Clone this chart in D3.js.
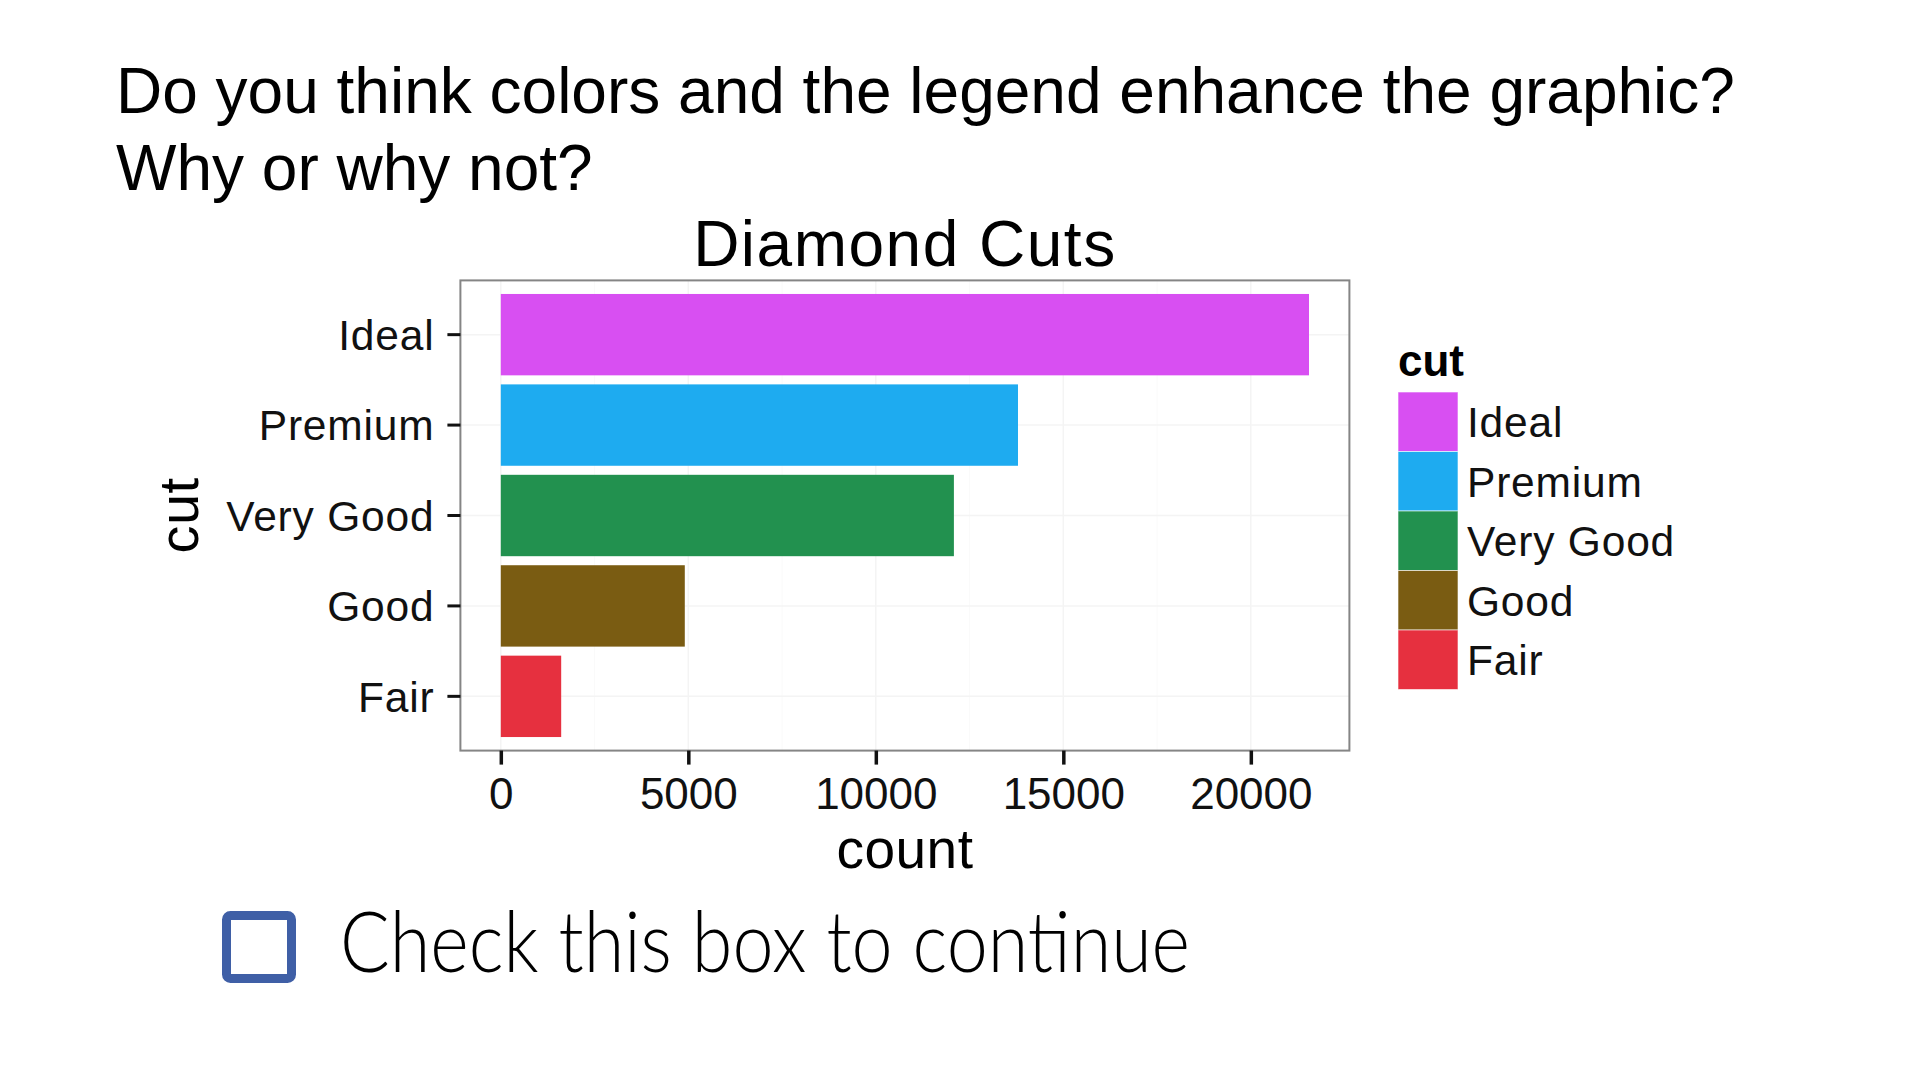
<!DOCTYPE html>
<html>
<head>
<meta charset="utf-8">
<script src="https://cdn.jsdelivr.net/npm/d3@7"></script>
<style>
  html, body { margin: 0; padding: 0; background: #ffffff; }
  svg { display: block; }
</style>
</head>
<body>
<svg id="chart" width="1920" height="1080"></svg>
<script>
// ---- data ----
const categories = ["Ideal", "Premium", "Very Good", "Good", "Fair"];
const counts = [21551, 13791, 12082, 4906, 1610];
const xTickValues = [0, 5000, 10000, 15000, 20000];
const xMinorValues = [2500, 7500, 12500, 17500];
const palette = ["#d84ff2", "#1eabf0", "#22914f", "#7a5c12", "#e6303f"];

const questionLines = ["Do you think colors and the legend enhance the graphic?", "Why or why not?"];
const chartTitle = "Diamond Cuts";
const xTitle = "count";
const yTitle = "cut";
const legendTitle = "cut";
const checkText = "Check this box to continue";

// ---- layout ----
const svg = d3.select("#chart");
const panel = { left: 460.4, right: 1349.4, top: 280.4, bottom: 750.6 };
const sansFont = "'Liberation Sans', Arial, Helvetica, sans-serif";

svg.append("rect").attr("width", 1920).attr("height", 1080).attr("fill", "#ffffff");

// question text
svg.append("g").selectAll("text").data(questionLines).join("text")
  .attr("x", 116)
  .attr("y", (d, i) => 112.5 + i * 77.5)
  .attr("font-family", "'Liberation Sans', Helvetica, Arial, sans-serif")
  .attr("font-size", 64)
  .attr("fill", "#000")
  .text(d => d);

// scales
const maxV = d3.max(counts);
const pad = maxV * 0.05;
const x = d3.scaleLinear().domain([-pad, maxV + pad]).range([panel.left, panel.right]);
const y = d3.scaleBand().domain(categories).range([panel.top, panel.bottom])
  .paddingInner(0.1).paddingOuter(0.15);
const color = d3.scaleOrdinal().domain(categories).range(palette);

// grid lines
const grid = svg.append("g");
grid.selectAll("line.minor").data(xMinorValues).join("line")
  .attr("x1", d => x(d)).attr("x2", d => x(d))
  .attr("y1", panel.top).attr("y2", panel.bottom)
  .attr("stroke", "#fafafa").attr("stroke-width", 1);
grid.selectAll("line.major").data(xTickValues).join("line")
  .attr("x1", d => x(d)).attr("x2", d => x(d))
  .attr("y1", panel.top).attr("y2", panel.bottom)
  .attr("stroke", "#f4f4f4").attr("stroke-width", 1.5);
grid.selectAll("line.hmajor").data(categories).join("line")
  .attr("x1", panel.left).attr("x2", panel.right)
  .attr("y1", d => y(d) + y.bandwidth() / 2).attr("y2", d => y(d) + y.bandwidth() / 2)
  .attr("stroke", "#f4f4f4").attr("stroke-width", 1.5);

// bars
svg.append("g").selectAll("rect").data(categories).join("rect")
  .attr("x", x(0))
  .attr("y", d => y(d))
  .attr("width", (d, i) => x(counts[i]) - x(0))
  .attr("height", y.bandwidth())
  .attr("fill", d => color(d));

// panel border
svg.append("rect")
  .attr("x", panel.left).attr("y", panel.top)
  .attr("width", panel.right - panel.left).attr("height", panel.bottom - panel.top)
  .attr("fill", "none").attr("stroke", "#858585").attr("stroke-width", 2);

// x axis
const xAxis = svg.append("g")
  .attr("transform", `translate(0,${panel.bottom})`)
  .call(d3.axisBottom(x).tickValues(xTickValues).tickFormat(d3.format("d")).tickSize(14).tickPadding(10));
xAxis.select(".domain").remove();
xAxis.selectAll(".tick line").attr("stroke", "#111").attr("stroke-width", 3.5);
xAxis.selectAll(".tick text")
  .attr("font-family", sansFont).attr("font-size", 44).attr("fill", "#111")
  .attr("dy", null).attr("y", 58);

// y axis
const yAxis = svg.append("g")
  .attr("transform", `translate(${panel.left},0)`)
  .call(d3.axisLeft(y).tickSize(13).tickPadding(13));
yAxis.select(".domain").remove();
yAxis.selectAll(".tick line").attr("stroke", "#111").attr("stroke-width", 3);
yAxis.selectAll(".tick text")
  .attr("font-family", sansFont).attr("font-size", 42.5).attr("fill", "#111")
  .attr("letter-spacing", 0.8)
  .attr("dy", "0.36em");

// chart title
svg.append("text")
  .attr("x", (panel.left + panel.right) / 2).attr("y", 266)
  .attr("text-anchor", "middle")
  .attr("font-family", sansFont).attr("font-size", 64).attr("letter-spacing", 1.5)
  .attr("fill", "#000")
  .text(chartTitle);

// axis titles
svg.append("text")
  .attr("x", (panel.left + panel.right) / 2).attr("y", 868)
  .attr("text-anchor", "middle")
  .attr("font-family", sansFont).attr("font-size", 55).attr("letter-spacing", 0.5)
  .attr("fill", "#000")
  .text(xTitle);

svg.append("text")
  .attr("transform", `translate(198,${(panel.top + panel.bottom) / 2}) rotate(-90)`)
  .attr("text-anchor", "middle")
  .attr("font-family", sansFont).attr("font-size", 56).attr("letter-spacing", 0.5)
  .attr("fill", "#000")
  .text(yTitle);

// legend
const legend = svg.append("g").attr("transform", "translate(1398,0)");
legend.append("text")
  .attr("x", 0).attr("y", 376)
  .attr("font-family", sansFont).attr("font-size", 44).attr("font-weight", "bold")
  .attr("fill", "#000")
  .text(legendTitle);
const keyH = 59.5, keyW = 60, keyTop = 392;
const keys = legend.selectAll("g.key").data(categories).join("g")
  .attr("transform", (d, i) => `translate(0,${keyTop + i * keyH})`);
keys.append("rect")
  .attr("width", keyW).attr("height", keyH)
  .attr("fill", d => color(d))
  .attr("stroke", "#ffffff").attr("stroke-opacity", 0.6).attr("stroke-width", 1);
keys.append("text")
  .attr("x", 69).attr("y", keyH / 2).attr("dy", "0.36em")
  .attr("font-family", sansFont).attr("font-size", 42.5).attr("letter-spacing", 0.8)
  .attr("fill", "#111")
  .text(d => d);

// checkbox
svg.append("rect")
  .attr("x", 226.5).attr("y", 915.5).attr("width", 65).attr("height", 63)
  .attr("rx", 4)
  .attr("fill", "#ffffff").attr("stroke", "#3f5fa6").attr("stroke-width", 9);

svg.append("text")
  .attr("x", 340).attr("y", 972)
  .attr("font-family", "Lato, 'Open Sans', sans-serif").attr("font-weight", 300)
  .attr("font-size", 84)
  .attr("textLength", 850).attr("lengthAdjust", "spacingAndGlyphs")
  .attr("fill", "#000")
  .text(checkText);
</script>
</body>
</html>
